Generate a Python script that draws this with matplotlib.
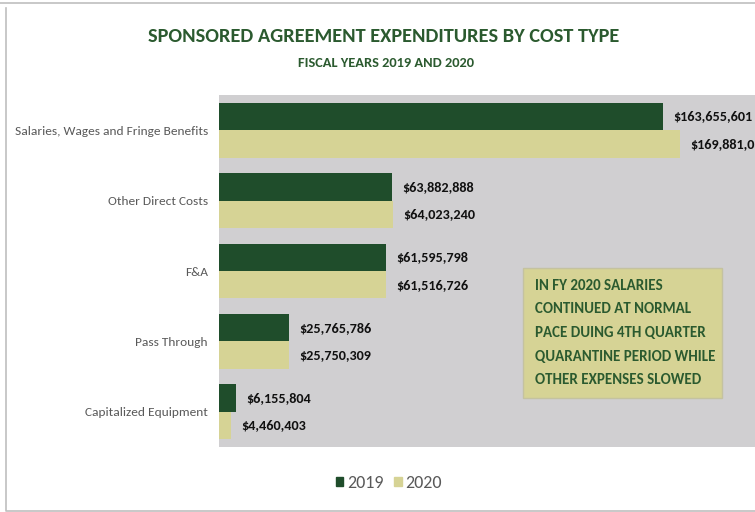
import matplotlib
matplotlib.use("Agg")
import matplotlib.pyplot as plt
from matplotlib.patches import Patch, Rectangle
from matplotlib.lines import Line2D
import numpy as np

plt.rcParams['font.family'] = ['Carlito', 'Open Sans', 'DejaVu Sans']

categories = ["Salaries, Wages and Fringe Benefits", "Other Direct Costs", "F&A",
              "Pass Through", "Capitalized Equipment"]
fy2019 = [163655601, 63882888, 61595798, 25765786, 6155804]
fy2020 = [169881035, 64023240, 61516726, 25750309, 4460403]
years = ["2019", "2020"]
note = ["IN FY 2020 SALARIES", "CONTINUED AT NORMAL", "PACE DUING 4TH QUARTER",
        "QUARANTINE PERIOD WHILE", "OTHER EXPENSES SLOWED"]

dark_green = "#1f4d2b"
khaki = "#d6d395"
plot_bg = "#d0cfd1"
title_green = "#2b5a2f"

fig = plt.figure(figsize=(7.55, 5.12), dpi=100)
ax = fig.add_axes([219 / 755, 1 - 447 / 512, 1 - 219 / 755, 352 / 512])
ax.set_facecolor(plot_bg)

y = np.arange(len(categories))
h = 0.39
ax.barh(y - h / 2, fy2019, height=h, color=dark_green)
ax.barh(y + h / 2, fy2020, height=h, color=khaki)

for i in range(len(categories)):
    ax.text(fy2019[i] + 3.8e6, y[i] - h / 2, f"${fy2019[i]:,}", va="center", ha="left",
            fontsize=10.3, fontweight="bold", color="#111111", clip_on=False)
    ax.text(fy2020[i] + 3.8e6, y[i] + h / 2, f"${fy2020[i]:,}", va="center", ha="left",
            fontsize=10.3, fontweight="bold", color="#111111", clip_on=False)

ax.set_xlim(0, 197.6e6)
ax.set_ylim(4.5, -0.5)
ax.set_yticks(y)
ax.set_yticklabels(categories, fontsize=9.6, color="#595959")
ax.tick_params(axis="y", length=0, pad=8)
ax.set_xticks([])
for s in ax.spines.values():
    s.set_visible(False)

# note box
bx0, bx1 = (523 - 219) / 536, (722 - 219) / 536
by0, by1 = 1 - (398 - 95) / 352, 1 - (268 - 95) / 352
ax.add_patch(Rectangle((bx0, by0), bx1 - bx0, by1 - by0, transform=ax.transAxes,
                       facecolor=khaki, edgecolor="#c4c2a0", lw=1))
line_h = (by1 - by0) / (len(note) + 0.5)
for k, line in enumerate(note):
    ax.text((535 - 219) / 536, by1 - line_h * (k + 0.75), line, transform=ax.transAxes,
            ha="left", va="center", fontsize=10.8, fontweight="bold", color=title_green)

fig.text(384 / 755, 1 - 37 / 512, "SPONSORED AGREEMENT EXPENDITURES BY COST TYPE",
         ha="center", va="center", fontsize=14.7, fontweight="bold", color=title_green)
fig.text(386 / 755, 1 - 63 / 512, "FISCAL YEARS 2019 AND 2020",
         ha="center", va="center", fontsize=10.4, fontweight="bold", color=title_green)

handles = [Patch(color=dark_green), Patch(color=khaki)]
leg = fig.legend(handles, years, loc="center", bbox_to_anchor=(389 / 755, 1 - 483 / 512),
                 ncol=2, frameon=False, fontsize=13, handlelength=0.42, handleheight=0.42,
                 handletextpad=0.2, columnspacing=0.6)
for t in leg.get_texts():
    t.set_color("#595959")

# outer frame
fig.add_artist(Line2D([0, 1], [1 - 3 / 512, 1 - 3 / 512], color="#bfbfbf", lw=1.2))
fig.add_artist(Line2D([6 / 755, 6 / 755, 1], [1 - 8 / 512, 1 - 511 / 512, 1 - 511 / 512],
                      color="#bfbfbf", lw=1.2))

fig.savefig("out.png", dpi=100)
